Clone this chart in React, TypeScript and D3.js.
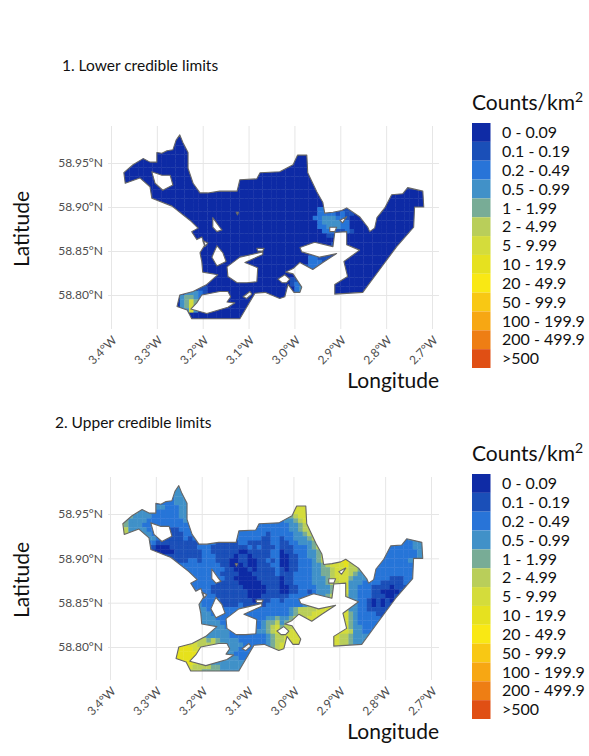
import { useEffect, useRef } from "react";
import * as d3 from "d3";

const legendLabels = ["0 - 0.09", "0.1 - 0.19", "0.2 - 0.49", "0.5 - 0.99", "1 - 1.99", "2 - 4.99", "5 - 9.99", "10 - 19.9", "20 - 49.9", "50 - 99.9", "100 - 199.9", "200 - 499.9", ">500"];
const legendColors = ["#0f2ba5", "#1a4fb8", "#2874d8", "#4191c8", "#78ac96", "#b9ce5a", "#d4dc3b", "#e6e11f", "#f9e814", "#f8c814", "#f7a713", "#ee7e14", "#e04f14"];

const lonTicks = [-3.4, -3.3, -3.2, -3.1, -3.0, -2.9, -2.8, -2.7];
const latTicks = [58.8, 58.85, 58.9, 58.95];

// coast, [lon, lat]
const coast: [number, number][] = [
  [-3.372, 58.939], [-3.352, 58.948], [-3.33, 58.955], [-3.315, 58.951], [-3.3, 58.951], [-3.3, 58.962], [-3.289, 58.961],
  [-3.278, 58.964], [-3.265, 58.965], [-3.258, 58.976], [-3.25, 58.982], [-3.243, 58.973], [-3.232, 58.962], [-3.232, 58.944],
  [-3.221, 58.927], [-3.206, 58.916], [-3.189, 58.916], [-3.163, 58.918], [-3.125, 58.918], [-3.119, 58.931], [-3.082, 58.932],
  [-3.075, 58.939], [-3.032, 58.94], [-3.003, 58.948], [-2.993, 58.959], [-2.973, 58.959], [-2.971, 58.939], [-2.951, 58.917],
  [-2.938, 58.905], [-2.934, 58.893], [-2.916, 58.894], [-2.897, 58.896], [-2.886, 58.899], [-2.858, 58.889], [-2.84, 58.877],
  [-2.836, 58.872], [-2.825, 58.876], [-2.82, 58.888], [-2.803, 58.899], [-2.788, 58.914], [-2.764, 58.915], [-2.753, 58.922],
  [-2.72, 58.918], [-2.718, 58.9], [-2.738, 58.9], [-2.74, 58.877], [-2.777, 58.855], [-2.814, 58.829], [-2.851, 58.803],
  [-2.912, 58.801], [-2.912, 58.812], [-2.884, 58.821], [-2.892, 58.838], [-2.858, 58.851], [-2.886, 58.857], [-2.886, 58.872],
  [-2.912, 58.871], [-2.916, 58.855], [-2.956, 58.86], [-2.988, 58.854], [-2.984, 58.849], [-2.945, 58.843], [-2.908, 58.847],
  [-2.938, 58.837], [-2.96, 58.829], [-2.988, 58.837], [-3.003, 58.83], [-3.019, 58.826], [-3.003, 58.824], [-2.984, 58.809],
  [-2.988, 58.803], [-3.001, 58.803], [-3.014, 58.812], [-3.021, 58.798], [-3.032, 58.796], [-3.064, 58.803], [-3.086, 58.802],
  [-3.119, 58.773], [-3.224, 58.773], [-3.234, 58.783], [-3.256, 58.787], [-3.25, 58.8], [-3.221, 58.804], [-3.191, 58.812],
  [-3.167, 58.823], [-3.2, 58.826], [-3.202, 58.838], [-3.206, 58.848], [-3.195, 58.857], [-3.202, 58.866], [-3.213, 58.863],
  [-3.224, 58.872], [-3.21, 58.876], [-3.228, 58.885], [-3.267, 58.901], [-3.311, 58.91], [-3.315, 58.923], [-3.337, 58.933],
  [-3.369, 58.927],
];

const lakes: [number, number][][] = [
  [[-3.311, 58.94], [-3.289, 58.936], [-3.271, 58.936], [-3.265, 58.925], [-3.287, 58.919], [-3.304, 58.927]],
  [[-3.178, 58.888], [-3.163, 58.877], [-3.158, 58.874], [-3.169, 58.872], [-3.178, 58.877]],
  [[-3.2, 58.862], [-3.189, 58.859], [-3.195, 58.855]],
  [[-3.169, 58.856], [-3.156, 58.848], [-3.149, 58.838], [-3.169, 58.833], [-3.18, 58.843]],
  [[-3.147, 58.832], [-3.119, 58.843], [-3.069, 58.849], [-3.069, 58.846], [-3.091, 58.841], [-3.108, 58.837], [-3.08, 58.831], [-3.082, 58.815], [-3.104, 58.814], [-3.125, 58.814], [-3.145, 58.821]],
  [[-3.082, 58.853], [-3.066, 58.853], [-3.069, 58.85], [-3.08, 58.85]],
  [[-3.112, 58.798], [-3.097, 58.804], [-3.093, 58.801], [-3.104, 58.796]],
  [[-3.202, 58.8], [-3.163, 58.804], [-3.145, 58.804], [-3.139, 58.798], [-3.147, 58.792], [-3.13, 58.791], [-3.145, 58.786], [-3.191, 58.779], [-3.226, 58.784], [-3.213, 58.791]],
  [[-3.036, 58.818], [-3.021, 58.823], [-3.01, 58.818], [-3.017, 58.814], [-3.027, 58.814]],
  [[-2.923, 58.877], [-2.908, 58.877], [-2.912, 58.872], [-2.923, 58.872]],
  [[-2.901, 58.885], [-2.886, 58.889], [-2.895, 58.882]],
  [[-3.127, 58.894], [-3.122, 58.894], [-3.124, 58.891]],
];

// raster grid: first cell and cell size in degrees
const gridLon0 = -3.38;
const gridLat0 = 58.985;
const gridLonStep = 0.01;
const gridLatStep = 0.005;

// upper limits: one colour class per cell, read row by row from the north
const upperRows = [
  "22222 22222 22333",
  "22222 22222 22333",
  "22222 22222 22333",
  "22222 22222 22333",
  "22222 22222 22333",
  "33333 33333 22233 33333 33333 33333 33333 33566 66",
  "44443 33322 22233 33333 33333 33333 33333 33566 66",
  "44433 33222 22233 33333 33333 33333 33333 23456 66",
  "44333 32222 22223 33333 33333 33322 22222 23345 666",
  "54333 22222 22222 22222 22222 33222 22222 22334 56666",
  "55333 32222 21122 22222 22222 32222 22222 22334 55666",
  "55433 33222 11112 22222 22222 32222 22122 22233 45566 66666 66666 22222 33333 33333",
  "55433 33322 11112 12222 22112 22222 21122 12233 34566 66666 66666 22222 22233 33333",
  "44433 22211 11111 11122 21111 12211 11122 11223 33456 66666 66666 22222 22223 33333",
  "33333 21100 01111 11222 11111 11121 21112 11122 23456 66666 66666 22222 22223 33333",
  "33333 21000 00111 11122 11111 10011 11122 01122 23346 66666 66666 22222 22222 33333",
  "33333 22100 11111 11122 21111 01101 11122 00112 23345 66677 65333 22222 22222 33333",
  "33333 22222 21111 22122 21110 01100 11212 00112 22345 56777 65433 22222 22233 33333",
  "33333 22222 22222 22222 22110 00100 11122 00112 22334 56667 55433 32222 22222 22222",
  "33333 22222 22222 22222 22211 00010 11112 10112 22334 45666 55443 32222 22222 22222",
  "33333 22222 22222 22222 22111 10001 11112 11122 22334 45666 54333 22222 22222 22222",
  "33333 22222 22222 22222 22211 00000 11111 01122 22333 45666 43332 22221 11222 22222",
  "33333 22222 22222 22222 21111 10000 01111 01122 22333 45566 33322 22111 11222 22222",
  "33333 22222 22222 22222 11111 11000 00111 00112 22233 34556 33222 11110 11122 22222",
  "33333 22222 22222 22222 11111 11100 00111 00112 21233 34556 33222 11000 01122 22222",
  "33333 22222 22222 23222 21111 11100 01111 11222 22233 45555 33222 11100 11122 22222",
  "33333 22222 22222 33222 22111 11110 11122 12222 22334 45555 33221 01010 11122 22222",
  "33333 22222 22222 33322 22111 12111 11222 22222 34455 55555 33221 01011 11222 22222",
  "33333 22222 22222 33332 22222 22222 22222 22345 55566 66666 33221 11111 22222 22222",
  "33333 22222 22222 33333 22222 22222 22222 22345 55666 66666 43222 21111 22222 22222",
  "33333 22222 22222 33333 32222 22222 22334 33456 56666 66666 43222 22111 22222 22222",
  "33333 22222 22222 33333 33222 22222 23445 34556 66666 66666 43222 22211 22222 22222",
  "33333 22222 22222 33333 33322 22222 23456 45566 66666 66666 43322 22222 22222 22222",
  "33333 22222 22222 33333 33332 22222 33456 55666 66666 66666 53322 22222 22222 22222",
  "33333 22222 22222 44443 33332 22222 22345 56666 66666 66655 43333 33322 22222 22222",
  "33333 22222 22222 55554 54333 32222 22345 56666 66666 66655 43333 33333 22222 22222",
  "33333 22222 77777 66555 54433 33222 22345 66666 66666 66655 43333 33333 22222 22222",
  "33333 22777 77777 76665 55433 32222 23345 66666 66666 66655 44333 33333 22222 22222",
  "33333 22777 77777 77665 33333 22222 33345 66666 66666 66655 44333 33333 22222 22222",
  "33333 77777 77777 77555 33333 32223 33445 66666 66666 66655 44333 33333 22222 22222",
  "33333 77777 77777 76555 33333 33333 33445 66666 66666 66655 44333 33333 22222 22222",
  "33333 77777 77766 65555 44333 33333 33333",
  "33333 77777 66655 55544 44333 33222 33333",
  "33333 77777 66655 55544 44333 33222 33333",
];

// lower limits: class 0 everywhere except these runs [row, first column, classes]
const lowerRuns: [number, number, string][] = [
  [35, 17, "11"], [36, 14, "33321"], [37, 13, "34432"], [38, 13, "34643"], [39, 13, "34643"], [40, 12, "23363"],
  [17, 43, "2221111"], [18, 43, "22221211"], [19, 42, "22333221"], [20, 43, "2333322"], [21, 43, "2233322"],
  [22, 44, "2221121"], [23, 45, "11"], [25, 46, "111"],
  [28, 41, "2211111"], [29, 41, "2221112"], [30, 40, "12222221"], [31, 41, "1111"], [32, 41, "11"],
  [33, 37, "11"], [34, 37, "122"], [35, 38, "233"], [36, 38, "23"],
];

const rowCount = upperRows.length;
const colCount = 70;

type Cell = { row: number; col: number; value: number };

const upperCells: Cell[] = upperRows.flatMap((text, row) =>
  text.replace(/ /g, "").split("").map((ch, col) => ({ row, col, value: +ch }))
);

const lowerCells: Cell[] = d3.range(rowCount).flatMap((row) =>
  d3.range(colCount).map((col) => {
    const run = lowerRuns.find((r) => r[0] === row && col >= r[1] && col < r[1] + r[2].length);
    return { row, col, value: run ? +run[2][col - run[1]] : 0 };
  })
);

const fontFamily = "Lato, 'Noto Sans', sans-serif";

const App = () => {
  const ref = useRef<SVGSVGElement | null>(null);

  useEffect(() => {
    if (!ref.current) return;
    const svg = d3.select(ref.current);
    svg.selectAll("*").remove();

    const color = d3.scaleOrdinal<number, string>().domain(d3.range(13)).range(legendColors);

    const drawPanel = (
      id: string,
      title: string,
      titleX: number,
      titleY: number,
      cells: Cell[],
      dy: number,
      dx: number,
      latScale: number
    ) => {
      const x = d3.scaleLinear().domain([-3.4, -2.7]).range([111 + dx, 432 + dx]);
      const y = d3.scaleLinear().domain([58.95, 58.8]).range([163 + dy, 163 + dy + latScale]);
      const left = 108;
      const right = 439;
      const top = 126 + dy;
      const bottom = 329 + dy;

      svg.append("text").attr("x", titleX).attr("y", titleY).attr("font-size", 15.5).attr("fill", "#111").text(title);

      // grid + tick labels
      const yAxis = svg
        .append("g")
        .attr("transform", `translate(${left},0)`)
        .call(
          d3.axisLeft(y).tickValues(latTicks).tickSize(-(right - left)).tickPadding(5).tickFormat((d) => `${(+d).toFixed(2)}°N`) as any
        );
      const xAxis = svg
        .append("g")
        .attr("transform", `translate(0,${bottom})`)
        .call(
          d3.axisBottom(x).tickValues(lonTicks).tickSize(-(bottom - top)).tickFormat((d) => `${Math.abs(+d).toFixed(1)}°W`) as any
        );
      [xAxis, yAxis].forEach((g) => {
        g.select(".domain").remove();
        g.selectAll("line").attr("stroke", "#e6e6e6").attr("stroke-width", 1);
        g.selectAll("text").attr("fill", "#4d4d4d").style("font-size", "12px").style("font-family", fontFamily);
      });
      xAxis
        .selectAll("text")
        .attr("x", 0)
        .attr("y", 0)
        .attr("dy", 0)
        .attr("text-anchor", "end")
        .attr("transform", "translate(6,12) rotate(-45)");

      // land outline
      const line = d3.line<[number, number]>().x((d) => x(d[0])).y((d) => y(d[1]));
      const land = [coast, ...lakes].map((ring) => line(ring) + "Z").join("");

      svg.append("clipPath").attr("id", id).append("path").attr("d", land).attr("clip-rule", "evenodd");

      const cellW = x(gridLonStep) - x(0);
      const cellH = y(0) - y(gridLatStep);
      svg
        .append("g")
        .attr("clip-path", `url(#${id})`)
        .append("g")
        .attr("filter", "url(#soft)")
        .selectAll("rect")
        .data(cells)
        .join("rect")
        .attr("x", (d) => x(gridLon0 + d.col * gridLonStep))
        .attr("y", (d) => y(gridLat0 - d.row * gridLatStep))
        .attr("width", cellW + 0.4)
        .attr("height", cellH + 0.4)
        .attr("fill", (d) => color(d.value));

      svg
        .append("path")
        .attr("d", land)
        .attr("fill", "none")
        .attr("stroke", "#666666")
        .attr("stroke-width", 1.1)
        .attr("stroke-linejoin", "round");

      svg
        .append("text")
        .attr("x", right)
        .attr("y", 388 + dy)
        .attr("text-anchor", "end")
        .attr("font-size", 21)
        .attr("fill", "#111")
        .text("Longitude");

      svg
        .append("text")
        .attr("transform", `translate(29,${229 + dy}) rotate(-90)`)
        .attr("text-anchor", "middle")
        .attr("font-size", 21)
        .attr("fill", "#111")
        .text("Latitude");

      // legend
      const band = d3.scaleBand<string>().domain(legendLabels).range([123 + dy, 368 + dy]);
      const title2 = svg
        .append("text")
        .attr("x", 472)
        .attr("y", 110 + dy)
        .attr("font-size", 21)
        .attr("fill", "#111")
        .text("Counts/km");
      title2.append("tspan").attr("dy", -8).attr("font-size", 14).text("2");

      const legend = svg.append("g");
      legend
        .selectAll("rect")
        .data(legendLabels)
        .join("rect")
        .attr("x", 472)
        .attr("y", (d) => band(d)!)
        .attr("width", 18.5)
        .attr("height", band.bandwidth())
        .attr("fill", (_, i) => legendColors[i]);
      legend
        .selectAll("text")
        .data(legendLabels)
        .join("text")
        .attr("x", 502)
        .attr("y", (d) => band(d)! + band.bandwidth() / 2)
        .attr("dy", "0.36em")
        .attr("font-size", 16)
        .attr("fill", "#111")
        .text((d) => d);
    };

    svg
      .append("defs")
      .append("filter")
      .attr("id", "soft")
      .append("feGaussianBlur")
      .attr("stdDeviation", 0.6);

    drawPanel("land1", "1. Lower credible limits", 62, 71, lowerCells, 0, 0, 132);
    drawPanel("land2", "2. Upper credible limits", 55, 428, upperCells, 351, -1, 133);
  }, []);

  return (
    <svg
      ref={ref}
      width={589}
      height={756}
      style={{ position: "absolute", left: 0, top: 0, fontFamily }}
    ></svg>
  );
};

export default App;
